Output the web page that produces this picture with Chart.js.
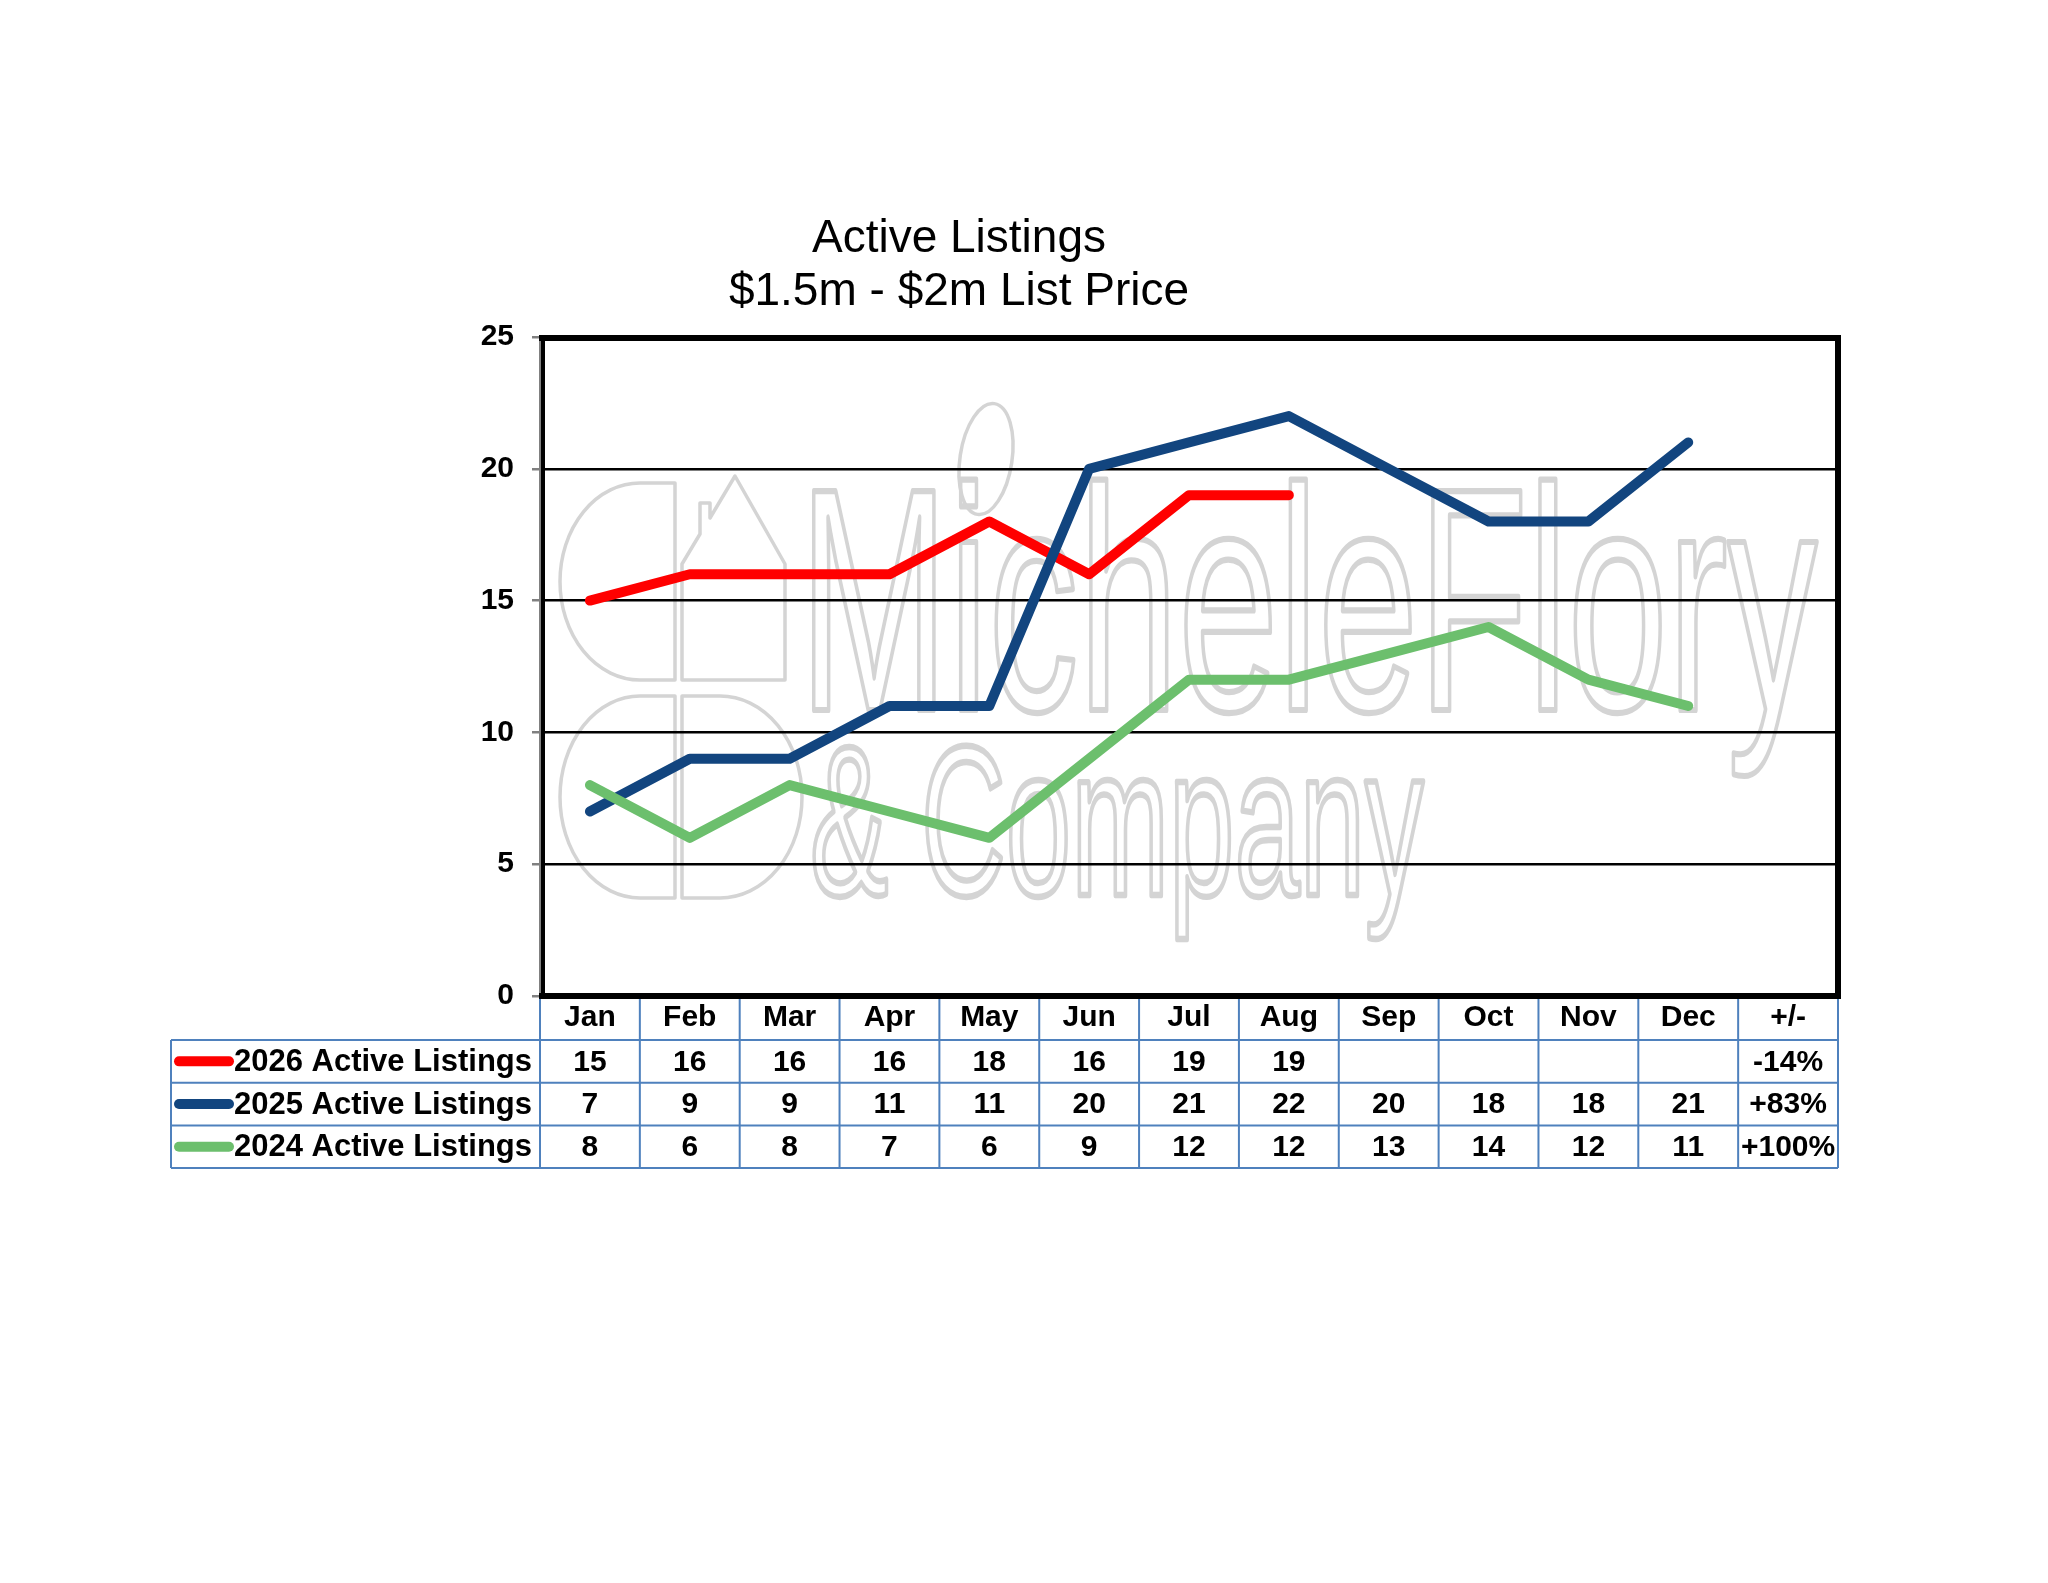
<!DOCTYPE html>
<html>
<head>
<meta charset="utf-8">
<title>Active Listings</title>
<script src="https://cdn.jsdelivr.net/npm/chart.js@4.4.1/dist/chart.umd.min.js"></script>
<style>
  html, body { margin: 0; padding: 0; background: #fff; }
  #wrap { width: 2048px; height: 1583px; }
</style>
</head>
<body>
<div id="wrap"><canvas id="chart" width="2048" height="1583"></canvas></div>
<script>
// categories (last column holds the +/- change)
const months = ['Jan', 'Feb', 'Mar', 'Apr', 'May', 'Jun', 'Jul', 'Aug', 'Sep', 'Oct', 'Nov', 'Dec', '+/-'];

// series values
const listings2026 = [15, 16, 16, 16, 18, 16, 19, 19, null, null, null, null, null];
const listings2025 = [7, 9, 9, 11, 11, 20, 21, 22, 20, 18, 18, 21, null];
const listings2024 = [8, 6, 8, 7, 6, 9, 12, 12, 13, 14, 12, 11, null];

// +/- column of the table
const changes = ['-14%', '+83%', '+100%'];

const seriesNames = ['2026 Active Listings', '2025 Active Listings', '2024 Active Listings'];
const seriesColors = ['#ff0000', '#12457f', '#6cbf6d'];

const titleLines = ['Active Listings', '$1.5m - $2m List Price'];

const FONT = '"Liberation Sans", Arial, Helvetica, sans-serif';
const TABLE_BLUE = '#4f81bd';

function outlineText(ctx, text, x, y, size, sx) {
    ctx.save();
    ctx.translate(x, y);
    ctx.scale(sx, 1);
    ctx.font = size + 'px ' + FONT;
    ctx.lineWidth = 3.5 / sx;
    ctx.strokeText(text, 0, 0);
    ctx.restore();
}

// watermark, frame, table and title
const sheetPlugin = {
    id: 'sheet',
    beforeDraw(chart) {
        const ctx = chart.ctx;
        const a = chart.chartArea;
        ctx.save();
        ctx.fillStyle = '#fff';
        ctx.fillRect(0, 0, chart.width, chart.height);
        ctx.beginPath();
        ctx.rect(a.left, a.top, a.right - a.left, a.bottom - a.top);
        ctx.clip();
        ctx.strokeStyle = '#d4d4d4';
        ctx.lineWidth = 3.5;
        ctx.lineJoin = 'round';

        // logo: rounded blocks and house
        ctx.beginPath();
        ctx.moveTo(675, 483);
        ctx.lineTo(640, 483);
        ctx.ellipse(640, 581.5, 80, 98.5, 0, -Math.PI / 2, Math.PI / 2, true);
        ctx.lineTo(675, 680);
        ctx.closePath();
        ctx.moveTo(675, 696);
        ctx.lineTo(640, 696);
        ctx.ellipse(640, 797, 80, 101, 0, -Math.PI / 2, Math.PI / 2, true);
        ctx.lineTo(675, 898);
        ctx.closePath();
        ctx.moveTo(682, 696);
        ctx.lineTo(720, 696);
        ctx.ellipse(720, 797, 82, 101, 0, -Math.PI / 2, Math.PI / 2, false);
        ctx.lineTo(682, 898);
        ctx.closePath();
        ctx.moveTo(682, 680);
        ctx.lineTo(682, 564);
        ctx.lineTo(700, 534);
        ctx.lineTo(700, 503);
        ctx.lineTo(710, 503);
        ctx.lineTo(710, 518);
        ctx.lineTo(735, 476);
        ctx.lineTo(785, 564);
        ctx.lineTo(785, 680);
        ctx.closePath();
        ctx.stroke();

        // leaf above the i
        ctx.beginPath();
        ctx.ellipse(986, 459, 26, 56, 0.15, 0, Math.PI * 2);
        ctx.stroke();

        outlineText(ctx, 'MicheleFlory', 799, 710, 318, 0.565);
        outlineText(ctx, '& Company', 810, 895, 214, 0.549);
        ctx.restore();
    },
    afterDraw(chart) {
        const ctx = chart.ctx;
        const a = chart.chartArea;
        const x = chart.scales.x;

        // plot frame
        ctx.save();
        ctx.strokeStyle = '#000';
        ctx.lineCap = 'square';
        ctx.lineWidth = 6;
        ctx.beginPath();
        ctx.moveTo(a.left + 2, a.top + 1);
        ctx.lineTo(a.right, a.top + 1);
        ctx.lineTo(a.right, a.bottom);
        ctx.lineTo(a.left + 2, a.bottom);
        ctx.stroke();
        ctx.lineWidth = 4;
        ctx.lineCap = 'butt';
        ctx.beginPath();
        ctx.moveTo(a.left + 3, a.top);
        ctx.lineTo(a.left + 3, a.bottom);
        ctx.stroke();
        ctx.restore();

        // data table below the axis
        const colW = (a.right - a.left) / months.length;
        const headerTop = a.bottom;
        const headerH = 44;
        const rowH = 42.7;
        const tableLeft = 171;
        const rowsTop = headerTop + headerH;
        const tableBottom = rowsTop + rowH * 3;
        const rows = [listings2026, listings2025, listings2024];

        ctx.save();
        ctx.strokeStyle = TABLE_BLUE;
        ctx.lineWidth = 2;
        ctx.beginPath();
        for (let i = 0; i <= months.length; i++) {
            const cx = a.left + colW * i;
            ctx.moveTo(cx, headerTop + 3);
            ctx.lineTo(cx, tableBottom);
        }
        ctx.moveTo(tableLeft, rowsTop);
        ctx.lineTo(tableLeft, tableBottom);
        for (let r = 0; r <= 3; r++) {
            const ry = rowsTop + rowH * r;
            ctx.moveTo(tableLeft, ry);
            ctx.lineTo(a.right, ry);
        }
        ctx.stroke();

        ctx.fillStyle = '#000';
        ctx.textBaseline = 'middle';
        for (let r = 0; r < rows.length; r++) {
            const cy = rowsTop + rowH * r + rowH / 2 + 1;

            ctx.strokeStyle = seriesColors[r];
            ctx.lineWidth = 10;
            ctx.lineCap = 'round';
            ctx.beginPath();
            ctx.moveTo(179, cy - 1);
            ctx.lineTo(229, cy - 1);
            ctx.stroke();

            ctx.font = 'bold 31px ' + FONT;
            ctx.textAlign = 'right';
            ctx.fillText(seriesNames[r], a.left - 8, cy);

            ctx.font = 'bold 30px ' + FONT;
            ctx.textAlign = 'center';
            for (let i = 0; i < months.length; i++) {
                const cx = x.getPixelForValue(i);
                let txt = '';
                if (i === months.length - 1) {
                    txt = changes[r];
                } else if (rows[r][i] !== null) {
                    txt = String(rows[r][i]);
                }
                ctx.fillText(txt, cx, cy);
            }
        }

        // title
        ctx.font = '46px ' + FONT;
        ctx.textAlign = 'center';
        ctx.textBaseline = 'alphabetic';
        ctx.fillText(titleLines[0], 959, 252);
        ctx.fillText(titleLines[1], 959, 305);
        ctx.restore();
    }
};

new Chart(document.getElementById('chart'), {
    type: 'line',
    data: {
        labels: months,
        datasets: [
            {label: seriesNames[0], data: listings2026, borderColor: seriesColors[0], order: 3},
            {label: seriesNames[1], data: listings2025, borderColor: seriesColors[1], order: 2},
            {label: seriesNames[2], data: listings2024, borderColor: seriesColors[2], order: 1}
        ]
    },
    options: {
        responsive: false,
        animation: false,
        devicePixelRatio: 1,
        layout: {
            padding: {left: 460, right: 210, top: 337, bottom: 543}
        },
        elements: {
            line: {borderWidth: 10, tension: 0, borderJoinStyle: 'round', borderCapStyle: 'round', fill: false},
            point: {radius: 0, hoverRadius: 0}
        },
        plugins: {
            legend: {display: false},
            title: {display: false},
            tooltip: {enabled: false}
        },
        scales: {
            x: {
                offset: true,
                grid: {display: false, drawTicks: false},
                border: {display: false},
                ticks: {
                    color: '#000',
                    font: {family: FONT, size: 30, weight: 'bold'},
                    padding: 4,
                    maxRotation: 0,
                    autoSkip: false
                },
                afterFit(scale) { scale.height = 44; }
            },
            y: {
                min: 0,
                max: 25,
                ticks: {
                    stepSize: 5,
                    color: '#000',
                    font: {family: FONT, size: 30, weight: 'bold'},
                    padding: 18
                },
                grid: {color: '#000', lineWidth: 2.5, tickColor: '#808080', tickLength: 8},
                border: {color: '#808080', width: 2},
                afterFit(scale) { scale.width = 80; }
            }
        }
    },
    plugins: [sheetPlugin]
});
</script>
</body>
</html>
